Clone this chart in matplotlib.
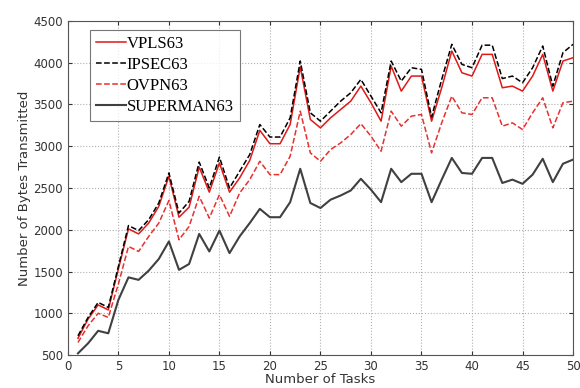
import matplotlib
matplotlib.use("Agg")
import matplotlib.pyplot as plt
import numpy as np

tasks = np.arange(1, 51)

vpls = [700, 930, 1100, 1040, 1530, 2010, 1950, 2080, 2280, 2640,
        2150, 2270, 2750, 2450, 2800, 2450, 2620, 2830, 3190, 3030,
        3030, 3260, 3950, 3320, 3220, 3340, 3440, 3540, 3720, 3520,
        3300, 3960, 3660, 3840, 3840, 3300, 3700, 4140, 3880, 3840,
        4100, 4100, 3700, 3720, 3660, 3840, 4100, 3660, 4020, 4060]

ipsec = [730, 950, 1130, 1070, 1560, 2050, 1990, 2120, 2320, 2680,
         2200, 2340, 2810, 2500, 2870, 2500, 2700, 2900, 3260, 3110,
         3110, 3340, 4020, 3400, 3300, 3420, 3540, 3640, 3800, 3600,
         3400, 4020, 3780, 3940, 3920, 3350, 3800, 4220, 3980, 3940,
         4210, 4210, 3810, 3840, 3760, 3940, 4200, 3720, 4120, 4220]

ovpn = [650, 850, 1000, 950, 1350, 1800, 1740, 1920, 2080, 2350,
        1880, 2040, 2400, 2140, 2420, 2160, 2440, 2600, 2820, 2660,
        2660, 2880, 3420, 2920, 2820, 2960, 3040, 3140, 3270, 3120,
        2940, 3420, 3240, 3360, 3380, 2920, 3280, 3600, 3400, 3380,
        3580, 3580, 3240, 3280, 3200, 3400, 3580, 3220, 3520, 3540]

superman = [520, 640, 790, 760, 1160, 1430, 1400, 1510, 1650, 1860,
            1520, 1590, 1950, 1740, 1990, 1720, 1920, 2080, 2250, 2150,
            2150, 2330, 2730, 2320, 2260, 2360, 2410, 2470, 2610, 2480,
            2330, 2730, 2570, 2670, 2670, 2330, 2600, 2860, 2680, 2670,
            2860, 2860, 2560, 2600, 2550, 2660, 2850, 2570, 2790, 2840]

fig = plt.figure(figsize=(5.8, 3.88), dpi=100)
ax = fig.add_axes([0.117, 0.085, 0.871, 0.861])

ax.plot(tasks, vpls, color="#e01818", lw=1.1, label="VPLS63")
ax.plot(tasks, ipsec, color="black", ls="--", lw=1.1, label="IPSEC63")
ax.plot(tasks, ovpn, color="#e83030", ls="--", lw=1.1, label="OVPN63")
ax.plot(tasks, superman, color="#404040", lw=1.5, label="SUPERMAN63")

ax.set_xlim(0, 50)
ax.set_ylim(500, 4500)
ax.set_xticks(np.arange(0, 51, 5))
ax.set_yticks(np.arange(500, 4501, 500))
ax.grid(True, ls=":", color="#b0b0b0", lw=0.8)
ax.tick_params(direction="in", top=True, right=True, labelsize=8.5, length=3,
               colors="#333333")
for s in ax.spines.values():
    s.set_color("#555555")
    s.set_linewidth(0.8)

ax.set_xlabel("Number of Tasks", fontsize=9.5, labelpad=0, color="#333333")
ax.set_ylabel("Number of Bytes Transmitted", fontsize=9.5, labelpad=2,
              color="#333333")

leg = ax.legend(loc="upper left", bbox_to_anchor=(0.044, 0.973),
                borderaxespad=0, fancybox=False, handlelength=1.8,
                handletextpad=0.05, labelspacing=0.3, borderpad=0.35,
                prop={"family": "Liberation Serif", "size": 12})
leg.get_frame().set_edgecolor("#555555")
leg.get_frame().set_linewidth(0.8)

fig.savefig("out.png", dpi=100)
